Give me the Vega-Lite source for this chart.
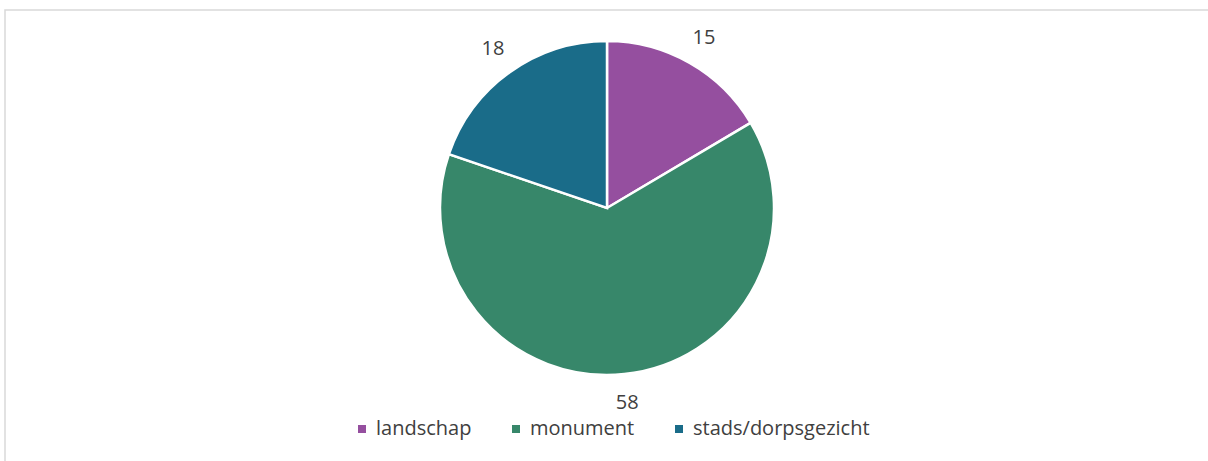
{
  "$schema": "https://vega.github.io/schema/vega-lite/v6.json",
  "width": 1204,
  "height": 452,
  "autosize": "none",
  "padding": {"left": 5, "top": 10, "right": 0, "bottom": 0},
  "background": "white",
  "config": {"view": {"stroke": "#d9d9d9", "strokeWidth": 1.5}},
  "data": {"values": [
    {"categorie": "landschap", "aantal": 15, "volgorde": 1},
    {"categorie": "monument", "aantal": 58, "volgorde": 2},
    {"categorie": "stads/dorpsgezicht", "aantal": 18, "volgorde": 3}
  ]},
  "encoding": {
    "y": {"datum": 0.562, "type": "quantitative", "scale": {"domain": [0, 1]}, "axis": null},
    "theta": {"field": "aantal", "type": "quantitative", "stack": true},
    "order": {"field": "volgorde", "type": "quantitative"},
    "color": {
      "field": "categorie", "type": "nominal",
      "scale": {"domain": ["landschap", "monument", "stads/dorpsgezicht"], "range": ["#954f9f", "#37876a", "#1a6c89"]},
      "legend": {
        "orient": "none", "legendX": 347, "legendY": 409, "direction": "horizontal",
        "title": null, "symbolType": "square", "symbolSize": 64, "symbolStrokeWidth": 0,
        "labelFont": "Open Sans", "labelFontSize": 20, "labelColor": "#404040", "labelLimit": 400,
        "labelOffset": 4, "columnPadding": 34
      }
    }
  },
  "layer": [
    {"mark": {"type": "arc", "outerRadius": 167, "stroke": "white", "strokeWidth": 2.5}},
    {
      "mark": {"type": "text", "radius": 196, "font": "Open Sans", "fontSize": 20, "color": "#404040"},
      "encoding": {"text": {"field": "aantal", "type": "quantitative"}, "color": {"value": "#404040"}}
    }
  ]
}
